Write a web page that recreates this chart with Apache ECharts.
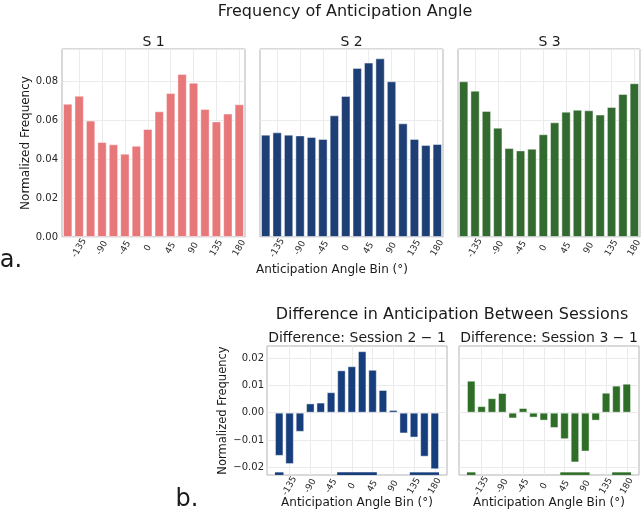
<!DOCTYPE html>
<html>
<head>
<meta charset="utf-8">
<script src="https://cdn.jsdelivr.net/npm/echarts@6/dist/echarts.min.js"></script>
<style>
  html, body { margin: 0; padding: 0; background: #fff; }
  #chart { width: 644px; height: 515px; }
</style>
</head>
<body>
<div id="chart"></div>
<script>
// bin centres (degrees)
const bins = [-157.5, -135, -112.5, -90, -67.5, -45, -22.5, 0, 22.5, 45, 67.5, 90, 112.5, 135, 157.5, 180];
const xTicks = [-135, -90, -45, 0, 45, 90, 135, 180];

// normalized frequency per session
const s1 = [0.0685, 0.0726, 0.0598, 0.0488, 0.0476, 0.0428, 0.0469, 0.0555, 0.0646, 0.0740, 0.0838, 0.0793, 0.0658, 0.0594, 0.0634, 0.0682];
const s2 = [0.0526, 0.0538, 0.0526, 0.0522, 0.0514, 0.0504, 0.0625, 0.0725, 0.0869, 0.0896, 0.0918, 0.0800, 0.0584, 0.0504, 0.0473, 0.0478];
const s3 = [0.0800, 0.0752, 0.0648, 0.0562, 0.0457, 0.0445, 0.0454, 0.0528, 0.0589, 0.0644, 0.0654, 0.0651, 0.0629, 0.0668, 0.0735, 0.0790];

// differences between sessions
const d21 = [-0.0158, -0.0188, -0.0070, 0.0034, 0.0037, 0.0075, 0.0155, 0.0170, 0.0225, 0.0157, 0.0083, 0.0010, -0.0076, -0.0091, -0.0161, -0.0207];
const d31 = [0.0117, 0.0024, 0.0053, 0.0072, -0.0021, 0.0017, -0.0018, -0.0029, -0.0056, -0.0097, -0.0182, -0.0142, -0.0029, 0.0073, 0.0099, 0.0106];

// significant bins (index into bins)
const sig21 = [0, 6, 7, 8, 9, 13, 14, 15];
const sig31 = [0, 9, 10, 11, 14, 15];
const sigLevel = -0.0223;

const colS1 = '#e8777a';
const colS2 = '#1e3f75';
const colS3 = '#336a30';
const colD21 = '#173e7c';
const colD31 = '#2f6e27';

const font = 'DejaVu Sans';
const chart = echarts.init(document.getElementById('chart'));

// group consecutive significant bins into runs
function runs(idx) {
  const out = [];
  idx.forEach(i => {
    const last = out[out.length - 1];
    if (last && last[2] === i - 1) { last[1] = bins[i]; last[2] = i; }
    else out.push([bins[i], bins[i], i]);
  });
  return out;
}

const grids = [
  { left: 62, top: 49, width: 183, height: 188 },
  { left: 260, top: 49, width: 183, height: 188 },
  { left: 458, top: 49, width: 183, height: 188 },
  { left: 267, top: 346, width: 180, height: 129 },
  { left: 459, top: 346, width: 180, height: 129 }
].map(g => Object.assign(g, { show: true, borderColor: '#b3b3b3', borderWidth: 1, containLabel: false }));

function xAx(i, bottom) {
  return {
    type: 'value', gridIndex: i,
    min: bottom ? -184 : -168.75, max: bottom ? 206.5 : 191.25,
    axisLine: { show: false },
    axisTick: { show: false, customValues: xTicks },
    axisLabel: { customValues: xTicks, rotate: 60, align: 'center', verticalAlign: 'middle',
      fontFamily: font, fontSize: 9, color: '#262626', margin: 11,
      formatter: v => String(v) },
    splitLine: { show: true, lineStyle: { color: '#ebebeb', width: 1 } }
  };
}

function yTop(i, labels) {
  return {
    type: 'value', gridIndex: i, min: 0, max: 0.0966, interval: 0.02,
    axisLine: { show: false }, axisTick: { show: false },
    axisLabel: { show: labels, showMaxLabel: false, fontFamily: font, fontSize: 10, color: '#262626', margin: 4,
      formatter: v => v.toFixed(2) },
    splitLine: { show: true, lineStyle: { color: '#ebebeb', width: 1 } },
    name: labels ? 'Normalized Frequency' : '', nameLocation: 'middle', nameGap: 28,
    nameTextStyle: { fontFamily: font, fontSize: 12, color: '#1a1a1a' }
  };
}

const yTicksDiff = [-0.02, -0.01, 0, 0.01, 0.02];
function yDiff(i, labels) {
  return {
    type: 'value', gridIndex: i, min: -0.0228, max: 0.0244,
    axisLine: { show: false },
    axisTick: { show: false, customValues: yTicksDiff },
    axisLabel: { show: labels, customValues: yTicksDiff, fontFamily: font, fontSize: 10, color: '#262626', margin: 3,
      formatter: v => (v < -1e-9 ? '\u2212' : '') + Math.abs(v).toFixed(2) },
    splitLine: { show: true, lineStyle: { color: '#ebebeb', width: 1 } },
    name: labels ? 'Normalized Frequency' : '', nameLocation: 'middle', nameGap: 26,
    nameTextStyle: { fontFamily: font, fontSize: 11.5, color: '#1a1a1a' }
  };
}

function barSeries(i, vals, color) {
  return {
    type: 'bar', xAxisIndex: i, yAxisIndex: i, barWidth: '82%',
    data: bins.map((b, k) => [b, vals[k]]),
    itemStyle: { color: color, borderColor: 'rgba(255,255,255,0.45)', borderWidth: 1 },
    silent: true, animation: false
  };
}

function sigSeries(i, idx, color) {
  return {
    type: 'custom', xAxisIndex: i, yAxisIndex: i, z: 3, silent: true, animation: false,
    data: runs(idx).map(r => [r[0], r[1]]),
    renderItem: (params, api) => {
      const a = api.coord([api.value(0), sigLevel]);
      const b = api.coord([api.value(1), sigLevel]);
      const half = api.size([22.5 * 0.41, 0])[0];
      return { type: 'rect', shape: { x: a[0] - half, y: a[1] - 1.3, width: b[0] - a[0] + 2 * half, height: 2.6 },
        style: { fill: color } };
    }
  };
}

function txt(text, x, y, size) {
  return { text: text, left: x, top: y, textAlign: 'center', padding: 0,
    textStyle: { fontFamily: font, fontSize: size, fontWeight: 'normal', color: '#1a1a1a' } };
}

chart.setOption({
  animation: false,
  title: [
    txt('Frequency of Anticipation Angle', 345, 4, 16),
    txt('S 1', 153.5, 35, 14),
    txt('S 2', 351.5, 35, 14),
    txt('S 3', 549.5, 35, 14),
    txt('Anticipation Angle Bin (°)', 332, 264, 12),
    txt('a.', 11, 249, 24),
    txt('Difference in Anticipation Between Sessions', 452, 307, 16),
    txt('Difference: Session 2 \u2212 1', 357, 331, 14),
    txt('Difference: Session 3 \u2212 1', 549, 331, 14),
    txt('Anticipation Angle Bin (°)', 357, 497, 12),
    txt('Anticipation Angle Bin (°)', 549, 497, 12),
    txt('b.', 187, 488, 24)
  ],
  grid: grids,
  xAxis: [xAx(0, false), xAx(1, false), xAx(2, false), xAx(3, true), xAx(4, true)],
  yAxis: [yTop(0, true), yTop(1, false), yTop(2, false), yDiff(3, true), yDiff(4, false)],
  series: [
    barSeries(0, s1, colS1),
    barSeries(1, s2, colS2),
    barSeries(2, s3, colS3),
    barSeries(3, d21, colD21),
    barSeries(4, d31, colD31),
    sigSeries(3, sig21, colD21),
    sigSeries(4, sig31, colD31)
  ]
});
</script>
</body>
</html>
